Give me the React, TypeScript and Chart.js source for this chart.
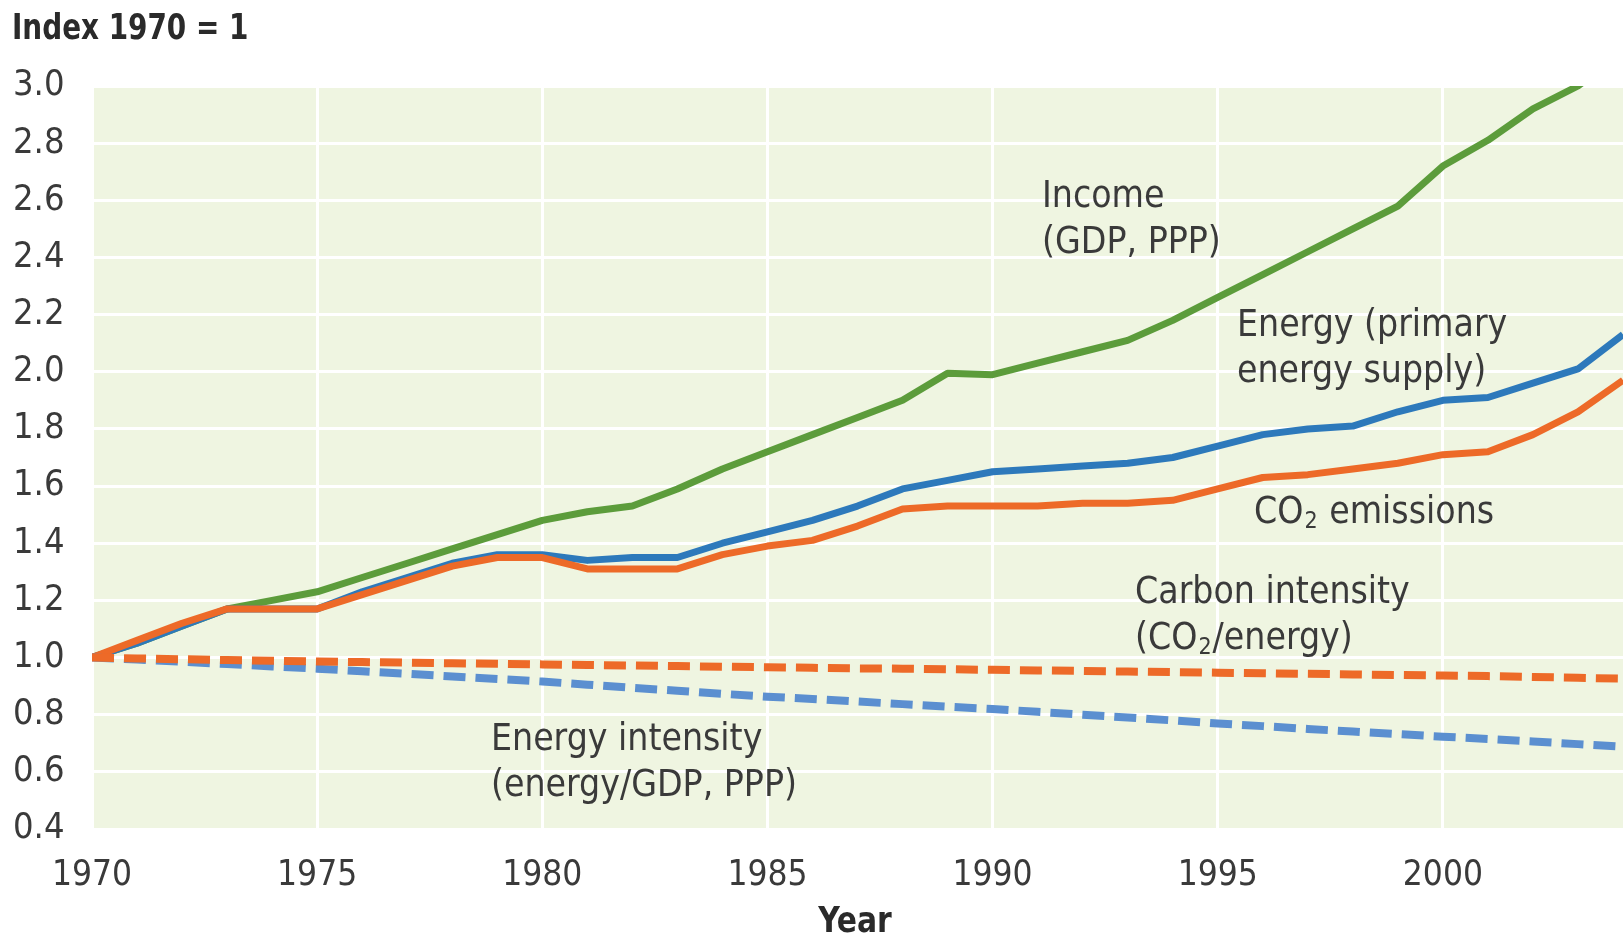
import React, { useEffect, useRef } from 'react';
import { Chart, registerables } from 'chart.js';
Chart.register(...registerables);

const years = [1970, 1971, 1972, 1973, 1974, 1975, 1976, 1977, 1978, 1979, 1980, 1981, 1982, 1983, 1984, 1985, 1986, 1987, 1988, 1989, 1990, 1991, 1992, 1993, 1994, 1995, 1996, 1997, 1998, 1999, 2000, 2001, 2002, 2003, 2004];
const income = [1.0, 1.05, 1.11, 1.17, 1.2, 1.23, 1.28, 1.33, 1.38, 1.43, 1.48, 1.51, 1.53, 1.59, 1.66, 1.72, 1.78, 1.84, 1.9, 1.995, 1.99, 2.03, 2.07, 2.11, 2.18, 2.26, 2.34, 2.42, 2.5, 2.58, 2.72, 2.81, 2.92, 3.0, 3.12];
const energy = [1.0, 1.05, 1.11, 1.17, 1.17, 1.17, 1.23, 1.28, 1.33, 1.36, 1.36, 1.34, 1.35, 1.35, 1.4, 1.44, 1.48, 1.53, 1.59, 1.62, 1.65, 1.66, 1.67, 1.68, 1.7, 1.74, 1.78, 1.8, 1.81, 1.86, 1.9, 1.91, 1.96, 2.01, 2.13];
const co2 = [1.0, 1.06, 1.12, 1.17, 1.17, 1.17, 1.22, 1.27, 1.32, 1.35, 1.35, 1.31, 1.31, 1.31, 1.36, 1.39, 1.41, 1.46, 1.52, 1.53, 1.53, 1.53, 1.54, 1.54, 1.55, 1.59, 1.63, 1.64, 1.66, 1.68, 1.71, 1.72, 1.78, 1.86, 1.97];
const carbonIntensity = [1.0, 0.997, 0.994, 0.991, 0.989, 0.986, 0.984, 0.982, 0.98, 0.978, 0.976, 0.974, 0.972, 0.97, 0.968, 0.966, 0.964, 0.962, 0.961, 0.959, 0.957, 0.955, 0.953, 0.951, 0.949, 0.947, 0.945, 0.943, 0.941, 0.939, 0.937, 0.935, 0.932, 0.929, 0.926];
const energyIntensity = [1.0, 0.993, 0.985, 0.977, 0.969, 0.961, 0.952, 0.943, 0.934, 0.925, 0.916, 0.905, 0.894, 0.884, 0.873, 0.863, 0.855, 0.846, 0.837, 0.828, 0.82, 0.81, 0.8, 0.79, 0.78, 0.769, 0.76, 0.75, 0.741, 0.732, 0.723, 0.715, 0.706, 0.697, 0.688];

const yMin = 0.4;
const yMax = 3.0;
const xMin = 1970;
const xMax = 2004;

const titleText = 'Index 1970 = 1';
const xTitleText = 'Year';

const FONT = "'Liberation Sans Narrow', 'DejaVu Sans Condensed', 'Roboto Condensed', sans-serif";
const TEXT_COLOR = '#3a3a3a';

// annotation labels: parts = [text, isSubscript]
type Part = [string, boolean];
const annotations: { lines: Part[][]; x: number; y: number }[] = [
  { lines: [[['Income', false]], [['(GDP, PPP)', false]]], x: 1042, y: 197 },
  { lines: [[['Energy (primary', false]], [['energy supply)', false]]], x: 1237, y: 326 },
  { lines: [[['CO', false], ['2', true], [' emissions', false]]], x: 1254, y: 513 },
  { lines: [[['Carbon intensity', false]], [['(CO', false], ['2', true], ['/energy)', false]]], x: 1135, y: 593 },
  { lines: [[['Energy intensity', false]], [['(energy/GDP, PPP)', false]]], x: 491, y: 740 },
];

const toXY = (vals: number[]) => vals.map((v, i) => ({ x: years[i], y: v }));

const bgPlugin = {
  id: 'bgPlugin',
  beforeDraw(chart: any) {
    const { ctx, chartArea } = chart;
    ctx.save();
    ctx.fillStyle = '#ffffff';
    ctx.fillRect(0, 0, chart.width, chart.height);
    ctx.fillStyle = '#eff5e1';
    ctx.fillRect(chartArea.left, chartArea.top, chartArea.right - chartArea.left, chartArea.bottom - chartArea.top);
    ctx.restore();
  },
  afterDraw(chart: any) {
    const { ctx } = chart;
    ctx.save();
    ctx.fillStyle = '#2a2a2a';
    ctx.textBaseline = 'middle';
    ctx.textAlign = 'left';
    ctx.font = `bold 36px ${FONT}`;
    ctx.save();
    ctx.translate(12, 30);
    ctx.scale(0.86, 1);
    ctx.fillText(titleText, 0, 0);
    ctx.restore();
    ctx.save();
    ctx.translate(855, 923);
    ctx.scale(0.92, 1);
    ctx.textAlign = 'center';
    ctx.fillText(xTitleText, 0, 0);
    ctx.restore();

    ctx.fillStyle = TEXT_COLOR;
    ctx.textAlign = 'left';
    const size = 37;
    const lineGap = 46;
    annotations.forEach((a) => {
      a.lines.forEach((parts, li) => {
        let x = a.x;
        const y = a.y + li * lineGap;
        parts.forEach(([t, sub]) => {
          if (sub) {
            ctx.font = `${Math.round(size * 0.62)}px ${FONT}`;
            ctx.fillText(t, x + 1, y + 9);
            x += ctx.measureText(t).width + 2;
          } else {
            ctx.font = `${size}px ${FONT}`;
            ctx.fillText(t, x, y);
            x += ctx.measureText(t).width;
          }
        });
      });
    });
    ctx.restore();
  },
};

export default function App() {
  const ref = useRef<HTMLCanvasElement | null>(null);
  useEffect(() => {
    document.body.style.margin = '0';
    const canvas = ref.current;
    if (!canvas) return;
    const ds = (label: string, data: number[], color: string, order: number, dashed: boolean) => ({
      label,
      data: toXY(data),
      borderColor: color,
      backgroundColor: color,
      borderWidth: dashed ? 8 : 7,
      borderDash: dashed ? [22, 10] : [],
      borderCapStyle: 'butt' as const,
      borderJoinStyle: 'round' as const,
      pointRadius: 0,
      tension: 0,
      order,
      fill: false,
    });
    const chart = new Chart(canvas, {
      type: 'line',
      data: {
        datasets: [
          ds('Income (GDP, PPP)', income, '#5c9c3b', 5, false),
          ds('Energy (primary energy supply)', energy, '#2d79bb', 4, false),
          ds('CO2 emissions', co2, '#ed6a28', 3, false),
          ds('Energy intensity (energy/GDP, PPP)', energyIntensity, '#5b8fd0', 2, true),
          ds('Carbon intensity (CO2/energy)', carbonIntensity, '#ed6a28', 1, true),
        ],
      },
      options: {
        animation: false,
        responsive: false,
        maintainAspectRatio: false,
        layout: { padding: { left: 13, top: 86, right: 0, bottom: 0 } },
        plugins: { legend: { display: false }, tooltip: { enabled: false }, title: { display: false } },
        scales: {
          x: {
            type: 'linear',
            min: xMin,
            max: xMax,
            ticks: {
              stepSize: 5,
              color: TEXT_COLOR,
              font: { family: FONT, size: 35 },
              padding: 26,
              maxRotation: 0,
              callback: (v: any) => String(v),
            },
            afterBuildTicks: (scale: any) => {
              scale.ticks = scale.ticks.filter((t: any) => t.value % 5 === 0);
            },
            afterFit: (scale: any) => {
              scale.height = 940 - 829;
            },
            grid: { color: '#ffffff', lineWidth: 3, drawTicks: false },
            border: { display: false },
          },
          y: {
            type: 'linear',
            min: yMin,
            max: yMax,
            ticks: {
              stepSize: 0.2,
              color: TEXT_COLOR,
              font: { family: FONT, size: 36 },
              crossAlign: 'far',
              callback: (v: any) => Number(v).toFixed(1),
            },
            afterFit: (scale: any) => {
              scale.width = 92 - 13;
            },
            grid: { color: '#ffffff', lineWidth: 3, drawTicks: false },
            border: { display: false },
          },
        },
      },
      plugins: [bgPlugin],
    });
    return () => chart.destroy();
  }, []);
  return (
    <div style={{ position: 'absolute', left: 0, top: 0, width: 1623, height: 940, background: '#fff' }}>
      <canvas ref={ref} width={1623} height={940} style={{ width: 1623, height: 940, display: 'block' }} />
    </div>
  );
}
